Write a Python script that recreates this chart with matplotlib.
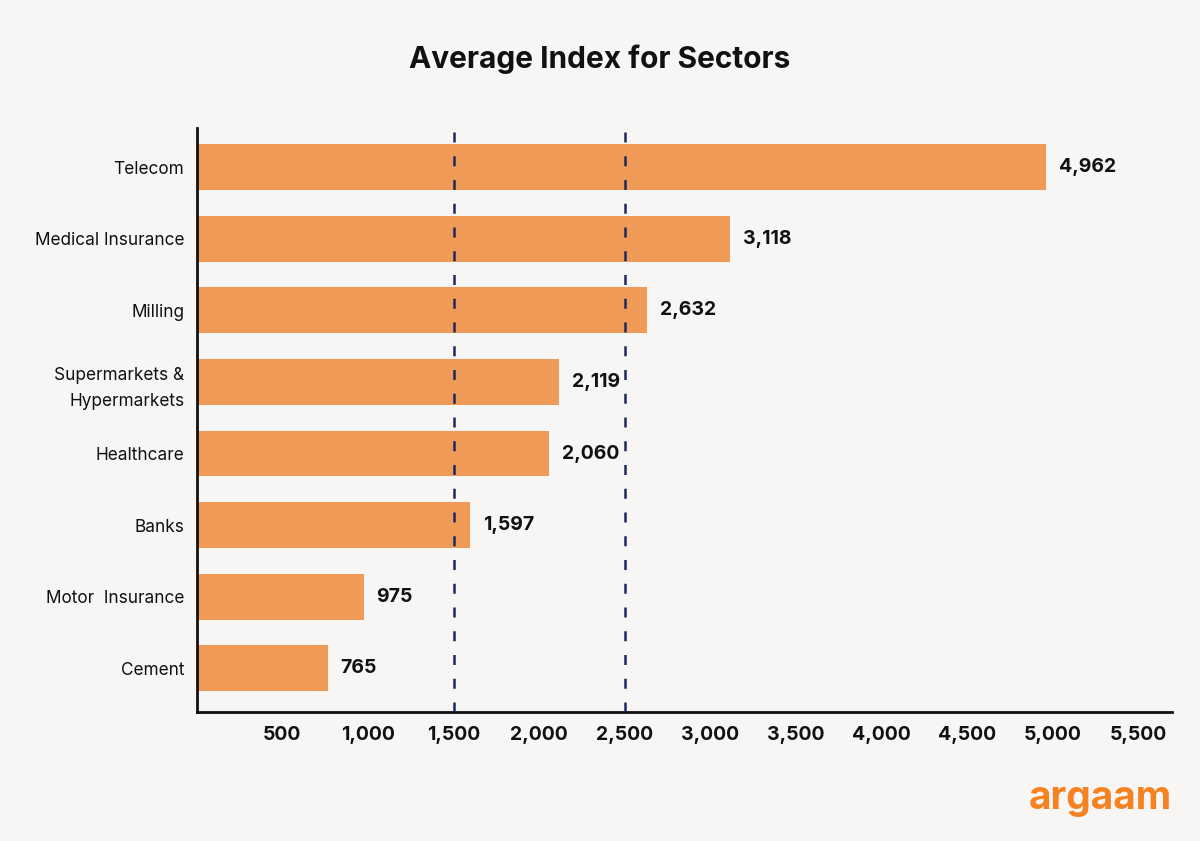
import numpy as np
import matplotlib.pyplot as plt

# data (bottom to top)
sectors = ['Cement', 'Motor  Insurance', 'Banks', 'Healthcare',
           'Supermarkets &\nHypermarkets', 'Milling', 'Medical Insurance', 'Telecom']
values = [765, 975, 1597, 2060, 2119, 2632, 3118, 4962]
ref_lines = [1500, 2500]
xticks = [500, 1000, 1500, 2000, 2500, 3000, 3500, 4000, 4500, 5000, 5500]

plt.rcParams['font.family'] = ['Inter', 'DejaVu Sans']

bg = '#f8f6f4'
bar_color = '#f09a58'
line_color = '#1b2a5c'

fig = plt.figure(figsize=(12, 8.41), dpi=100, facecolor=bg)
ax = fig.add_axes([0.164, 0.1534, 0.813, 0.6946], facecolor=bg)

y = np.arange(len(sectors))
ax.barh(y, values, height=0.64, color=bar_color, zorder=2)

for xv in ref_lines:
    ax.axvline(xv, color=line_color, lw=1.8, dashes=(4, 5.5), zorder=3)

for yi, v in zip(y, values):
    ax.annotate(f'{v:,}', (v, yi), xytext=(9, 0), textcoords='offset points',
                va='center', ha='left', fontsize=14, fontweight='bold', color='#111111')

ax.set_xlim(0, 5700)
ax.set_ylim(-0.61, 7.55)
ax.set_xticks(xticks)
ax.set_xticklabels([f'{t:,}' for t in xticks], fontsize=14, fontweight='bold', color='#111111')
ax.set_yticks(y)
ax.set_yticklabels(sectors, fontsize=12.4, color='#111111', multialignment='right',
                   linespacing=1.7)
ax.tick_params(axis='both', length=0)
ax.tick_params(axis='x', pad=10)
ax.tick_params(axis='y', pad=9)

for s in ['top', 'right']:
    ax.spines[s].set_visible(False)
for s in ['left', 'bottom']:
    ax.spines[s].set_linewidth(2)
    ax.spines[s].set_color('#111111')

fig.text(0.5, 0.93, 'Average Index for Sectors', ha='center', va='center',
         fontsize=21.5, fontweight='bold', color='#111111')
fig.text(0.977, 0.05, 'argaam', ha='right', va='center', fontsize=28,
         fontweight='bold', color='#f58220')

fig.savefig('out.png', dpi=100, facecolor=bg)
